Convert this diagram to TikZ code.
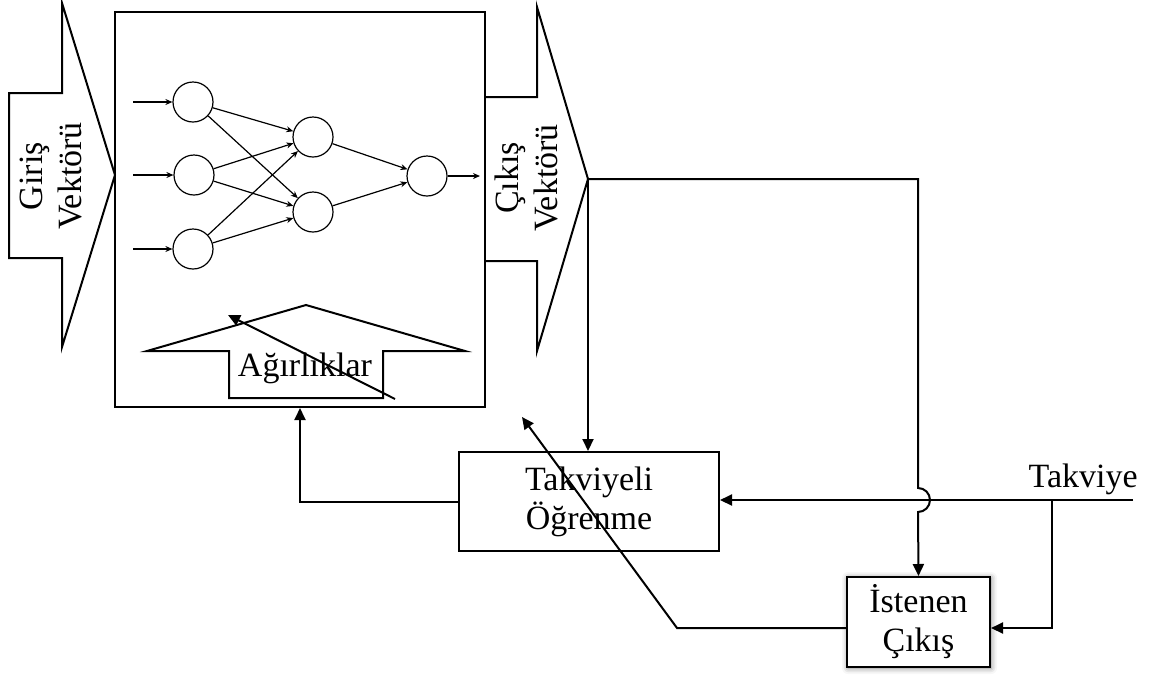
\documentclass[tikz,border=0pt]{standalone}
\usepackage{fontspec}
\setmainfont{Liberation Serif}
\usetikzlibrary{arrows.meta,shadows.blur}
\begin{document}
\begin{tikzpicture}[x=0.5pt,y=-0.5pt,
  every node/.style={font=\fontsize{17}{19.5}\selectfont, inner sep=0pt},
  thick line/.style={line width=1pt},
  box/.style={draw, line width=1pt, rectangle, fill=white},
  neuron/.style={draw, circle, line width=0.6pt, minimum size=20pt},
  link/.style={line width=0.6pt, -{Stealth[length=3.5pt,width=3pt]}},
  flow/.style={line width=1pt, -{Triangle[length=6pt,width=5.5pt]}},
  label/.style={align=center}]
\useasboundingbox (0,0) rectangle (1150,681);

% input vector arrow
\draw[thick line] (9,93) -- (62,93) -- (62,3) -- (115,175) -- (62,347) -- (62,258) -- (9,258) -- cycle;
\node[label, rotate=90] (inlabel) at (51,176) {Giriş\\Vektörü};

% output vector arrow
\coordinate (outtip) at (588,179);
\draw[thick line] (485,97) -- (537,97) -- (537,7) -- (outtip) -- (537,351) -- (537,261) -- (485,261);
\node[label, rotate=90] (outlabel) at (526.5,178) {Çıkış\\Vektörü};

% network frame
\node[draw, line width=1pt, minimum width=185pt, minimum height=197.5pt] (main) at (300,209.5) {};

% weights arrow
\draw[thick line] (147,351) -- (229,351) -- (229,398) -- (383,398) -- (383,351) -- (465,351) -- (306,305) -- cycle;
\node (wlabel) at (305,368) {Ağırlıklar};
\coordinate (wfrom) at (395,399);
\coordinate (wto) at (228,315);
\draw[flow] (wfrom) -- (wto);

% neurons
\node[neuron] (i1) at (193,102) {};
\node[neuron] (i2) at (194,175) {};
\node[neuron] (i3) at (193,249) {};
\node[neuron] (h1) at (313,137) {};
\node[neuron] (h2) at (313,212) {};
\node[neuron] (o1) at (427,176) {};
\coordinate (x1) at (133,102);
\coordinate (x2) at (133,175);
\coordinate (x3) at (133,249);
\coordinate (y1) at (480,176);
\foreach \s in {1,2,3}{
  \draw[link] (x\s) -- (i\s);
  \foreach \t in {1,2} \draw[link] (i\s) -- (h\t);
}
\foreach \t in {1,2} \draw[link] (h\t) -- (o1);
\draw[link] (o1) -- (y1);

% learning blocks
\node[box, minimum width=130pt, minimum height=49.5pt, label] (learn) at (589,501.5) {Takviyeli\\Öğrenme};
\node[box, minimum width=71.5pt, minimum height=45pt, label,
  blur shadow={shadow xshift=0.5pt, shadow yshift=-0.5pt, shadow blur radius=3pt, shadow opacity=50}] (desired) at (918.5,622) {İstenen\\Çıkış};

% output to learning block
\draw[flow] (outtip) -- (outtip |- learn.north);

% output to desired output, jumping over the reinforcement line
\coordinate (corner) at (918,179);
\coordinate (jump) at (918,488);
\draw[flow] (outtip) -- (corner) -- (jump)
  arc[start angle=90, end angle=-90, radius=6pt] -- (desired.north);

% reinforcement signal
\coordinate (tk) at (1133,500);
\coordinate (branch) at (1052,500);
\coordinate (lvl) at (0,628);
\node[anchor=base east] (tklabel) at (1138,487) {Takviye};
\draw[flow] (tk) -- (tk -| learn.east);
\draw[flow] (branch) |- (desired.east |- lvl);

% feedback to the weights
\draw[flow] (learn.west) -| (main.south);

% desired output to the adaptation arrow
\coordinate (bend) at (677,628);
\coordinate (atip) at (522,417);
\draw[flow] (desired.west |- lvl) -- (bend) -- (atip);
\end{tikzpicture}
\end{document}
